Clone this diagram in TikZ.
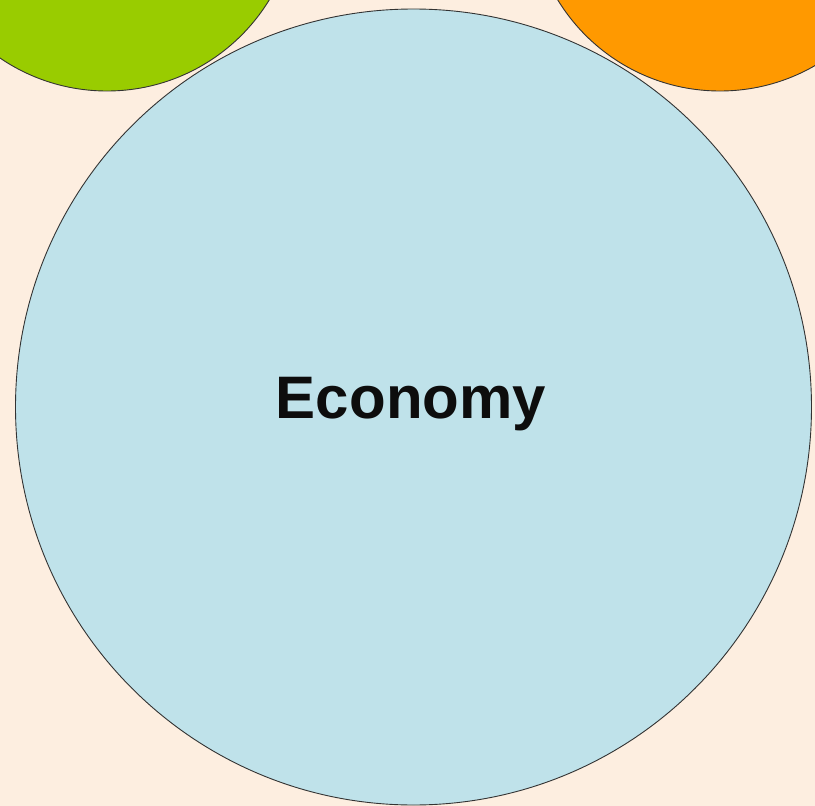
\documentclass[tikz,border=0pt]{standalone}
\usepackage{fontspec}
\setmainfont{Liberation Sans}
\definecolor{bgpeach}{HTML}{FDEEE0}
\definecolor{econblue}{HTML}{BFE2EA}
\definecolor{limegreen}{HTML}{99CC00}
\definecolor{brightorange}{HTML}{FF9900}
\tikzset{
  bubble/.style={circle, draw=black!80, line width=0.9pt, inner sep=0pt},
  label/.style={font=\fontsize{60}{60}\selectfont\bfseries, text=black!95}
}
\begin{document}
\begin{tikzpicture}[x=1pt,y=-1pt]
\fill[bgpeach] (0,0) rectangle (815,806);
\useasboundingbox (0,0) rectangle (815,806);
\begin{scope}
\clip (0,0) rectangle (815,806);
\node[bubble, fill=limegreen, minimum size=380pt] (green) at (107,-99) {};
\node[bubble, fill=brightorange, minimum size=380pt] (orange) at (720,-99) {};
\node[bubble, fill=econblue, minimum size=796pt] (econ) at (413.5,407) {};
\end{scope}
\node[label, anchor=base, inner sep=0pt] (econtext) at (411,418) {Economy};
\end{tikzpicture}
\end{document}
